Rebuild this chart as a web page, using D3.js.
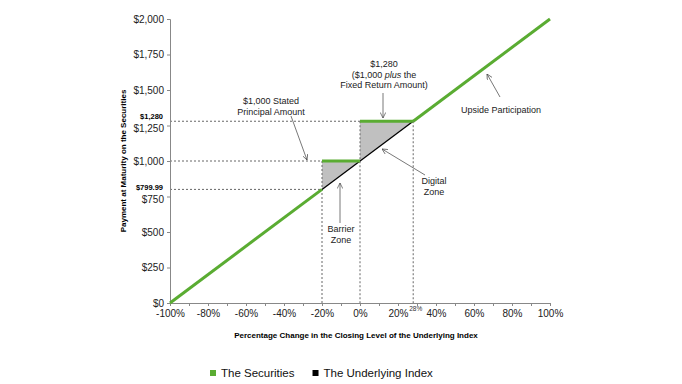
<!DOCTYPE html>
<html>
<head>
<meta charset="utf-8">
<script src="https://cdn.jsdelivr.net/npm/d3@7"></script>
<style>
  body { margin: 0; background: #fff; }
  text { font-family: Arial, "Liberation Sans", sans-serif; }
</style>
</head>
<body>
<div id="wrapper"></div>
<script>
// data
const securities = [[-100, 0], [-20, 799.99], [-20, 1000], [0, 1000], [0, 1280], [28, 1280], [100, 2000]];
const underlying = [[-20, 800], [28, 1280]];
const barrierZone = [[-20, 1000], [0, 1000], [0, 1000], [-20, 800]];
const digitalZone = [[0, 1280], [28, 1280], [28, 1280], [0, 1000]];
const xTicks = [-100, -80, -60, -40, -20, 0, 20, 40, 60, 80, 100];
const xMinorTicks = d3.range(-100, 101, 10);
const yTicks = [0, 250, 500, 750, 1000, 1250, 1500, 1750, 2000];
const refLines = [
  { y: 1000, x: -20 },
  { y: 799.99, x: -20 },
  { y: 1280, x: 28 },
];
const vLines = [
  { x: -20, y: 1000 },
  { x: 0, y: 1280 },
  { x: 28, y: 1280 },
];
const legendItems = [
  { label: "The Securities", color: "#5aac32" },
  { label: "The Underlying Index", color: "#000" },
];

const width = 682, height = 384;
const green = "#5aac32";

const svg = d3.select("#wrapper").append("svg")
  .attr("width", width).attr("height", height);

const x = d3.scaleLinear().domain([-100, 100]).range([170, 550]);
const y = d3.scaleLinear().domain([0, 2000]).range([303, 19]);

// grey fill zones
const line = d3.line().x(d => x(d[0])).y(d => y(d[1]));
[barrierZone, digitalZone].forEach(z => {
  svg.append("path").attr("d", line(z) + "Z")
    .attr("fill", "#c0c0c0").attr("stroke", "none");
});

// dashed reference lines
const dash = "2,2";
refLines.forEach(r => {
  svg.append("line")
    .attr("x1", x(-100)).attr("x2", x(r.x))
    .attr("y1", y(r.y)).attr("y2", y(r.y))
    .attr("stroke", "#666").attr("stroke-width", 1).attr("stroke-dasharray", dash);
});
vLines.forEach(r => {
  svg.append("line")
    .attr("x1", x(r.x)).attr("x2", x(r.x))
    .attr("y1", y(r.y)).attr("y2", y(0))
    .attr("stroke", "#666").attr("stroke-width", 1).attr("stroke-dasharray", dash);
});

// axes
const yAxis = svg.append("g")
  .attr("transform", `translate(${x(-100)},0)`)
  .call(d3.axisLeft(y).tickValues(yTicks).tickSize(3).tickPadding(3)
    .tickFormat(d => "$" + d3.format(",")(d)));
const xAxisMinor = svg.append("g")
  .attr("transform", `translate(0,${y(0)})`)
  .call(d3.axisBottom(x).tickValues(xMinorTicks).tickSize(3).tickFormat(""));
const xAxis = svg.append("g")
  .attr("transform", `translate(0,${y(0)})`)
  .call(d3.axisBottom(x).tickValues(xTicks).tickSize(3).tickPadding(4)
    .tickFormat(d => d + "%"));
[yAxis, xAxis, xAxisMinor].forEach(a => {
  a.selectAll("path, line").attr("stroke", "#888");
  a.selectAll("text").attr("fill", "#222").style("font-size", "10px")
    .style("font-family", "Arial, 'Liberation Sans', sans-serif");
});
// nudge $1,250 and $750 a touch lower like the reference
yAxis.selectAll(".tick text").filter(d => d === 1250 || d === 750).attr("dy", "0.55em");

// underlying (black)
svg.append("path").datum(underlying)
  .attr("d", line).attr("fill", "none")
  .attr("stroke", "#000").attr("stroke-width", 1.3);

// securities (green), drawn as separate pieces
const segs = [[securities[0], securities[1]], [securities[2], securities[3]], [securities[4], securities[5]], [securities[5], securities[6]]];
segs.forEach(s => {
  svg.append("path").datum(s).attr("d", line)
    .attr("fill", "none").attr("stroke", green).attr("stroke-width", 3);
});

// small bold labels
svg.append("text").attr("x", 163).attr("y", y(1280) - 2.5)
  .attr("text-anchor", "end").style("font-size", "7.5px").style("font-weight", "bold")
  .text("$1,280");
svg.append("text").attr("x", 163).attr("y", y(799.99) + 0.5)
  .attr("text-anchor", "end").style("font-size", "7.5px").style("font-weight", "bold")
  .text("$799.99");
svg.append("text").attr("x", x(28) + 2.5).attr("y", y(0) + 8)
  .attr("text-anchor", "middle").style("font-size", "6.5px").attr("fill", "#333")
  .text("28%");

// axis titles
svg.append("text")
  .attr("transform", `translate(126,${(y(0) + y(2000)) / 2}) rotate(-90)`)
  .attr("text-anchor", "middle").style("font-size", "8px").style("font-weight", "bold")
  .text("Payment at Maturity on the Securities");
svg.append("text").attr("x", 356).attr("y", 338)
  .attr("text-anchor", "middle").style("font-size", "8px").style("font-weight", "bold")
  .text("Percentage Change in the Closing Level of the Underlying Index");

// annotations
const defs = svg.append("defs");
defs.append("marker").attr("id", "arr").attr("viewBox", "0 0 10 10")
  .attr("refX", 10).attr("refY", 5).attr("markerWidth", 7).attr("markerHeight", 7)
  .attr("orient", "auto")
  .append("path").attr("d", "M0,0 L10,5 L0,10").attr("fill", "none").attr("stroke", "#444").attr("stroke-width", 1.2);

function arrow(x1, y1, x2, y2) {
  svg.append("line").attr("x1", x1).attr("y1", y1).attr("x2", x2).attr("y2", y2)
    .attr("stroke", "#555").attr("stroke-width", 0.8).attr("marker-end", "url(#arr)");
}
function note(cx, cy, lines) {
  const t = svg.append("text").attr("x", cx).attr("y", cy)
    .attr("text-anchor", "middle").style("font-size", "9px").attr("fill", "#222");
  lines.forEach((l, i) => {
    const ts = t.append("tspan").attr("x", cx).attr("dy", i ? 10.5 : 0);
    if (Array.isArray(l)) {
      l.forEach(p => ts.append("tspan").style("font-style", p.i ? "italic" : null).text(p.t));
    } else ts.text(l);
  });
}

note(271, 104, ["$1,000 Stated", "Principal Amount"]);
arrow(291, 116, 307, 160);

note(384, 67, ["$1,280", [{ t: "($1,000 " }, { t: "plus", i: true }, { t: " the" }], "Fixed Return Amount)"]);
arrow(383, 93, 383, 118);

note(434, 184, ["Digital", "Zone"]);
arrow(425, 175, 382, 149);

note(341, 232, ["Barrier", "Zone"]);
arrow(340, 223, 340, 183);

note(501, 113, ["Upside Participation"]);
arrow(500, 97, 487, 74);

// legend
let lx = 210;
legendItems.forEach(item => {
  svg.append("rect").attr("x", lx).attr("y", 370).attr("width", 6).attr("height", 6)
    .attr("fill", item.color);
  const t = svg.append("text").attr("x", lx + 11).attr("y", 377)
    .style("font-size", "11.5px").attr("fill", "#111").text(item.label);
  lx += 11 + t.node().getComputedTextLength() + 18;
});
</script>
</body>
</html>
